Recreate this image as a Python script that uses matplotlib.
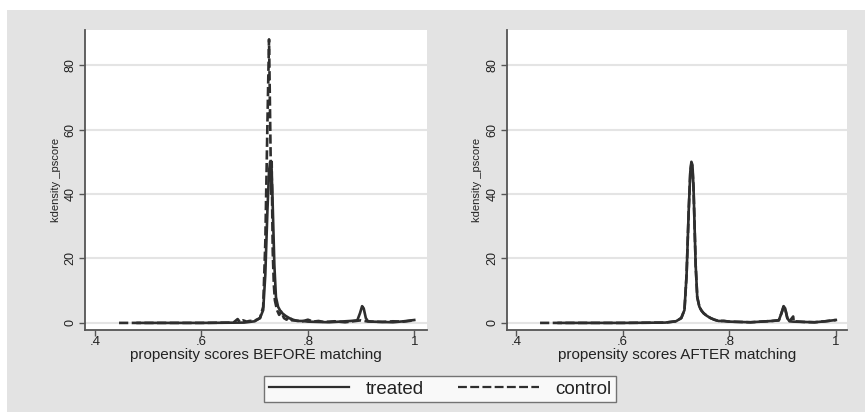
import matplotlib
matplotlib.use("Agg")
import matplotlib.pyplot as plt
from matplotlib.patches import Rectangle
from matplotlib.lines import Line2D

plt.rcParams['font.family'] = ['Liberation Sans', 'DejaVu Sans']

# ---- data ----
before_control_x = [0.445, 0.5, 0.6, 0.66, 0.668, 0.672, 0.678, 0.685, 0.69, 0.70, 0.71, 0.716, 0.72,
                    0.724, 0.727, 0.7285, 0.730, 0.731, 0.732, 0.733, 0.734, 0.736, 0.738, 0.742, 0.746,
                    0.750, 0.755, 0.76, 0.765, 0.77, 0.78, 0.79, 0.80, 0.81, 0.82, 0.83, 0.85, 0.87,
                    0.89, 0.90, 0.91, 0.92, 0.94, 0.96, 0.98, 1.0]
before_control_y = [0.0, 0.0, 0.0, 0.1, 1.2, 0.3, 0.8, 0.4, 0.6, 0.7, 1.5, 5.0, 25.0,
                    62.0, 88.0, 70.0, 52.0, 40.0, 50.0, 35.0, 22.0, 12.0, 7.0, 4.0, 2.5,
                    3.5, 1.5, 1.0, 2.0, 0.8, 0.7, 0.5, 1.0, 0.4, 0.6, 0.3, 0.5, 0.2,
                    0.6, 0.8, 0.5, 0.4, 0.3, 0.5, 0.4, 0.8]

before_treated_x = [0.48, 0.6, 0.68, 0.70, 0.71, 0.716, 0.72, 0.724, 0.727, 0.729, 0.731, 0.733,
                    0.735, 0.737, 0.74, 0.744, 0.748, 0.752, 0.758, 0.765, 0.772, 0.78, 0.79, 0.80,
                    0.82, 0.84, 0.86, 0.88, 0.893, 0.898, 0.902, 0.905, 0.909, 0.913, 0.92, 0.94,
                    0.96, 0.98, 1.0]
before_treated_y = [0.0, 0.0, 0.1, 0.5, 1.5, 4.0, 15.0, 35.0, 47.0, 50.0, 49.0, 42.0,
                    30.0, 18.0, 8.0, 5.0, 3.8, 3.0, 2.2, 1.5, 1.0, 0.6, 0.6, 0.4,
                    0.3, 0.2, 0.4, 0.6, 0.8, 3.0, 5.2, 4.5, 1.5, 0.5, 0.4, 0.3,
                    0.2, 0.5, 0.9]

after_control_x = [0.445, 0.5, 0.6, 0.68, 0.70, 0.71, 0.716, 0.72, 0.724, 0.727, 0.729, 0.731,
                   0.733, 0.735, 0.737, 0.74, 0.744, 0.748, 0.752, 0.758, 0.765, 0.772, 0.78,
                   0.79, 0.80, 0.82, 0.84, 0.86, 0.88, 0.893, 0.898, 0.902, 0.905, 0.909, 0.913,
                   0.92, 0.921, 0.94, 0.96, 0.98, 1.0]
after_control_y = [0.0, 0.0, 0.0, 0.1, 0.5, 1.5, 4.0, 15.0, 35.0, 47.0, 49.5, 48.0,
                   42.0, 30.0, 18.0, 8.0, 5.0, 3.8, 3.0, 2.2, 1.5, 1.0, 0.6,
                   0.6, 0.4, 0.3, 0.2, 0.4, 0.6, 0.8, 3.0, 5.0, 4.3, 1.5, 0.5,
                   2.0, 0.5, 0.3, 0.2, 0.5, 0.9]

after_treated_x = before_treated_x
after_treated_y = before_treated_y

x_ticks = [0.4, 0.6, 0.8, 1.0]
x_tick_labels = [".4", ".6", ".8", "1"]
y_ticks = [0, 20, 40, 60, 80]
y_tick_labels = ["0", "20", "40", "60", "80"]
x_titles = ["propensity scores BEFORE matching", "propensity scores AFTER matching"]
y_title = "kdensity _pscore"
series_names = ["treated", "control"]

# ---- figure ----
W, H = 865, 412
fig = plt.figure(figsize=(W / 100, H / 100), dpi=100, facecolor="white")
bg = Rectangle((7 / W, 0), 1 - 7 / W, 1 - 10 / H, transform=fig.transFigure,
               facecolor="#e3e3e3", edgecolor="none", zorder=-10)
fig.patches.append(bg)

line_color = "#2e2e2e"
axis_color = "#555555"
text_color = "#222222"

panels = [
    dict(rect=[85 / W, 1 - 330 / H, (427 - 85) / W, 300 / H], xlim=(0.381, 1.024),
         tx=before_treated_x, ty=before_treated_y, cx=before_control_x, cy=before_control_y,
         title=x_titles[0]),
    dict(rect=[507 / W, 1 - 330 / H, (847 - 507) / W, 300 / H], xlim=(0.383, 1.021),
         tx=after_treated_x, ty=after_treated_y, cx=after_control_x, cy=after_control_y,
         title=x_titles[1]),
]

for p in panels:
    ax = fig.add_axes(p["rect"])
    ax.set_facecolor("white")
    ax.set_xlim(*p["xlim"])
    ax.set_ylim(-2.2, 90.9)
    for s in ["top", "right"]:
        ax.spines[s].set_visible(False)
    for s in ["left", "bottom"]:
        ax.spines[s].set_color(axis_color)
        ax.spines[s].set_linewidth(1.3)
    ax.set_yticks(y_ticks)
    ax.set_yticklabels(y_tick_labels, rotation=90, va="center", fontsize=9, color=text_color)
    ax.set_xticks(x_ticks)
    ax.set_xticklabels(x_tick_labels, fontsize=9.5, color=text_color)
    ax.tick_params(axis="both", direction="out", length=4, width=1, color=axis_color, pad=2)
    ax.tick_params(axis="x", pad=0)
    ax.yaxis.grid(True, color="#e4e4e4", linewidth=1.5)
    ax.set_axisbelow(True)
    ax.plot(p["cx"], p["cy"], color=line_color, linewidth=1.9, linestyle=(0, (3.5, 1.3)))
    ax.plot(p["tx"], p["ty"], color=line_color, linewidth=1.9, linestyle="-")
    ax.set_xlabel(p["title"], fontsize=11, color=text_color, labelpad=0)
    ax.set_ylabel(y_title, fontsize=8, color=text_color, labelpad=3)

handles = [Line2D([], [], color=line_color, linewidth=1.6, linestyle="-"),
           Line2D([], [], color=line_color, linewidth=1.6, linestyle=(0, (4, 1.5)))]
leg = fig.legend(handles, series_names, loc="center", bbox_to_anchor=(440 / W, 1 - 389 / H),
                 ncol=2, fontsize=13.5, frameon=True, fancybox=False, edgecolor="#555555",
                 handlelength=4.3, handletextpad=0.9, columnspacing=1.8, borderpad=0.25,
                 borderaxespad=0)
leg.get_frame().set_linewidth(1.0)
for t in leg.get_texts():
    t.set_color(text_color)

fig.savefig("out.png", dpi=100, facecolor="white")
